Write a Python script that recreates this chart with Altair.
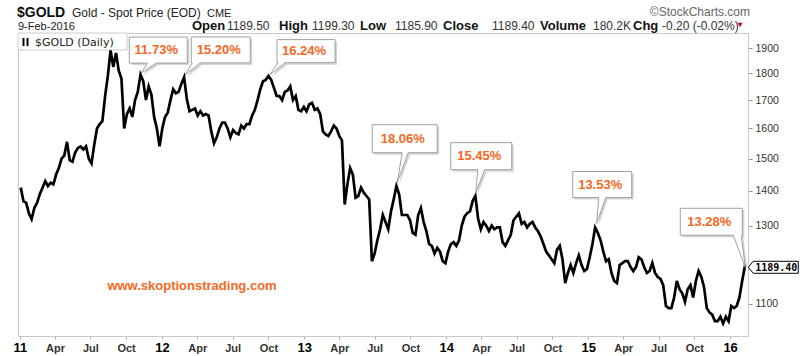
import altair as alt
import pandas as pd

# ---------------- data (weekly closes) ----------------
gold_2011 = [1410, 1370, 1365, 1335, 1318,
             1350, 1365, 1390, 1410,
             1430, 1415, 1425, 1420,
             1450, 1470, 1500, 1510,
             1555, 1495, 1490, 1520, 1535,
             1540, 1530, 1540, 1500,
             1485, 1545, 1600, 1615,
             1625, 1715, 1790, 1890, 1825,
             1880, 1810, 1780, 1600,
             1650, 1670, 1640, 1700, 1730,
             1795, 1770, 1700, 1750,
             1720, 1640, 1600, 1540]
gold_2012 = [1600, 1640, 1655, 1700, 1740,
             1725, 1730, 1760, 1785,
             1705, 1660, 1665, 1670,
             1645, 1660, 1645, 1650, 1645,
             1590, 1550, 1570, 1600,
             1620, 1620, 1600, 1570,
             1595, 1585, 1580, 1610, 1600,
             1615, 1615, 1645, 1665,
             1700, 1740, 1770, 1775,
             1790, 1775, 1745, 1715, 1715,
             1700, 1730, 1735, 1750,
             1700, 1715, 1665, 1660, 1675]
gold_2013 = [1660, 1685, 1690, 1665,
             1670, 1650, 1590, 1580,
             1575, 1590, 1610, 1600,
             1575, 1560, 1360, 1420, 1470,
             1450, 1380, 1385, 1410,
             1395, 1385, 1375, 1205,
             1225, 1260, 1290, 1330, 1310,
             1290, 1340, 1375, 1415,
             1390, 1330, 1330, 1330, 1315,
             1280, 1275, 1330, 1350,
             1310, 1285, 1250, 1245,
             1225, 1240, 1230, 1205, 1200]
gold_2014 = [1230, 1250, 1255, 1245,
             1260, 1300, 1325, 1335,
             1340, 1370, 1385, 1320, 1290,
             1310, 1300, 1285, 1300,
             1290, 1295, 1295, 1255,
             1245, 1260, 1275, 1315, 1325,
             1335, 1305, 1310, 1295,
             1305, 1310, 1295, 1285,
             1270, 1250, 1230, 1220, 1210,
             1200, 1235, 1245, 1210,
             1150, 1175, 1195, 1175,
             1200, 1220, 1195, 1180, 1185]
gold_2015 = [1215, 1250, 1295, 1280,
             1260, 1230, 1205, 1210,
             1175, 1155, 1150, 1195, 1200,
             1205, 1205, 1190, 1180,
             1190, 1215, 1210, 1190,
             1175, 1180, 1200, 1175, 1165,
             1160, 1145, 1095, 1090,
             1090, 1115, 1155, 1135, 1125,
             1105, 1135, 1145, 1115,
             1155, 1180, 1165, 1140,
             1090, 1080, 1075, 1060, 1060,
             1070, 1055, 1070, 1060]
gold_2016 = [1095, 1090, 1095, 1115, 1155, 1192]
last_date = "2016-02-09"
last_close = 1189.40

callout_dates = ["2011-11-09", "2012-03-01", "2012-10-05", "2013-08-28",
                 "2014-03-18", "2015-01-23", "2016-02-09"]
callout_prices = [1801, 1794, 1795, 1425, 1395, 1306, 1189.4]
callout_labels = ["11.73%", "15.20%", "16.24%", "18.06%", "15.45%", "13.53%", "13.28%"]

y_ticks = [1100, 1300, 1400, 1500, 1600, 1700, 1800, 1900]

weekly = gold_2011 + gold_2012 + gold_2013 + gold_2014 + gold_2015 + gold_2016
dates = list(pd.date_range("2011-01-03", periods=len(weekly), freq="7D")) + [pd.Timestamp(last_date)]
df = pd.DataFrame({"date": dates, "price": weekly + [last_close]})

# ---------------- styling ----------------
FONT = "Liberation Sans"
ORANGE = "#f5681f"
one = pd.DataFrame({"a": [0]})

x_scale = alt.Scale(domain=[alt.DateTime(year=2010, month=12, date=27),
                            alt.DateTime(year=2016, month=2, date=16)])
y_scale = alt.Scale(type="log", domain=[1027, 1962], nice=False)

quarters = [alt.DateTime(year=y, month=m, date=1)
            for y in range(2011, 2017) for m in (1, 4, 7, 10)
            if not (y == 2016 and m > 1)]
is_year = "month(datum.value) == 0"
x_axis = alt.Axis(
    values=quarters, title=None, grid=False,
    labelExpr=f"{is_year} ? timeFormat(datum.value, '%y') : timeFormat(datum.value, '%b')",
    labelFontSize={"condition": {"test": is_year, "value": 13}, "value": 11},
    labelColor={"condition": {"test": is_year, "value": "#000"}, "value": "#333"},
    labelFontWeight="bold", labelFont=FONT, labelBaseline="alphabetic",
    labelPadding=12, labelOverlap=False, labelFlush=False,
    tickSize=3, tickColor="#aaa", domainColor="#c8c8c8")
y_axis = alt.Axis(
    orient="right", values=y_ticks, title=None, grid=False, format="d",
    labelFont=FONT, labelFontSize=10.5, labelColor="#333", labelPadding=3,
    tickSize=4, tickColor="#999", domainColor="#c8c8c8")


def X():
    return alt.X("date:T", scale=x_scale, axis=x_axis)


def Y():
    return alt.Y("price:Q", scale=y_scale, axis=y_axis)


def ptext(txt, xa, ya, size, weight="normal", color="#222", align="left", font=FONT):
    return alt.Chart(one).mark_text(
        text=txt, align=align, baseline="alphabetic", fontSize=size,
        fontWeight=weight, color=color, font=font
    ).encode(x=alt.value(xa - 18), y=alt.value(ya - 33))


def bubble(x0, x1, y0, y1, p0, p1, s=0):
    pts = [(0, 0), (p0, y1), (x0, y1), (x0, y0), (x1, y0), (x1, y1), (p1, y1)]
    return "M" + " L".join(f"{px + s},{py + s}" for px, py in pts) + " Z"


layers = []

# legend box inside the plot
layers.append(alt.Chart(one).mark_rect(fill="white", stroke="#cccccc", strokeWidth=1).encode(
    x=alt.value(0), x2=alt.value(109), y=alt.value(0), y2=alt.value(17)))
for xi in (5.5, 9.5):
    layers.append(alt.Chart(one).mark_rule(color="black", strokeWidth=2).encode(
        x=alt.value(xi), y=alt.value(5), y2=alt.value(13)))
layers.append(ptext("$GOLD (Daily)", 35, 46, 11, color="#222", font="DejaVu Sans"))

# price line
layers.append(alt.Chart(df).mark_line(color="black", strokeWidth=2.7, strokeJoin="miter").encode(
    x=X(), y=Y()))

# callouts (box geometry in pixels relative to the peak)
callout_geom = [
    (-12, 46, -36, -10, 6, 15),
    (6, 65, -38, -12, 7, 15),
    (7, 65, -35, -12, 8, 15),
    (-25, 40, -58, -30, 5, 11),
    (-25, 36, -50, -23, 2, 9),
    (-24, 35, -52, -26, 2, 9),
    (-65, -3, -59, -32, -12, -4),
]
for d, p, lab, g in zip(callout_dates, callout_prices, callout_labels, callout_geom):
    cdf = pd.DataFrame({"date": [pd.Timestamp(d)], "price": [p], "label": [lab]})
    base = alt.Chart(cdf)
    layers.append(base.mark_point(shape=bubble(*g, s=2), size=4, filled=True, fill="#d4d4d4",
                                  strokeWidth=0, opacity=1).encode(x=X(), y=Y()))
    layers.append(base.mark_point(shape=bubble(*g), size=4, filled=True, fill="white",
                                  stroke="#a0a0a0", strokeWidth=1, opacity=1).encode(x=X(), y=Y()))
    cx = (g[0] + g[1]) / 2 - 2
    cy = (g[2] + g[3]) / 2
    layers.append(base.mark_text(dx=cx, dy=cy, align="center", baseline="middle", font=FONT,
                                 fontSize=13, fontWeight="bold", color=ORANGE).encode(
        x=X(), y=Y(), text="label:N"))

# last price label at the right axis
ldf = pd.DataFrame({"date": [pd.Timestamp(last_date)], "price": [last_close],
                    "label": [f"{last_close:.2f}"]})
layers.append(alt.Chart(ldf).mark_point(shape="M3,0 L8,-6 L53,-6 L53,6 L8,6 Z", size=4, filled=True,
                                        fill="white", stroke="black", strokeWidth=1, opacity=1).encode(x=X(), y=Y()))
layers.append(alt.Chart(ldf).mark_text(dx=31, dy=0.5, align="center", baseline="middle",
                                       font="DejaVu Sans Mono", fontSize=10, fontWeight="bold",
                                       color="black").encode(x=X(), y=Y(), text="label:N"))

# website
layers.append(ptext("www.skoptionstrading.com", 192, 290, 13, weight="bold", color=ORANGE, align="center"))

# header
layers.append(ptext("$GOLD", 17, 17, 14, weight="bold", color="#111"))
layers.append(ptext("Gold - Spot Price (EOD)", 72, 17, 12, color="#222"))
layers.append(ptext("CME", 207, 17, 11, color="#222"))
layers.append(ptext("©StockCharts.com", 750, 16, 12, color="#666", align="right"))
layers.append(ptext("9-Feb-2016", 18, 30, 11, color="#222"))
header_tokens = [("Open", 192, True), ("1189.50", 227, False), ("High", 279, True),
                 ("1199.30", 312, False), ("Low", 360, True), ("1185.90", 395, False),
                 ("Close", 443, True), ("1189.40", 492, False), ("Volume", 540, True),
                 ("180.2K", 593, False), ("Chg", 633, True), ("-0.20 (-0.02%)", 662, False)]
for txt, xa, b in header_tokens:
    layers.append(ptext(txt, xa, 30, 13 if b else 12, weight="bold" if b else "normal",
                        color="#111" if b else "#333"))
layers.append(alt.Chart(one).mark_point(shape="triangle-down", size=28, filled=True,
                                        color="#c0102a", opacity=1).encode(
    x=alt.value(740 - 18), y=alt.value(25 - 33)))

chart = alt.layer(*layers).properties(
    width=730, height=303,
    autosize=alt.AutoSizeParams(type="none"),
    padding={"left": 18, "top": 33, "right": 52, "bottom": 20},
    background="white",
).configure_view(stroke="#c8c8c8", strokeWidth=1)

chart.save("out.html", embed_options={"renderer": "svg", "actions": False})
